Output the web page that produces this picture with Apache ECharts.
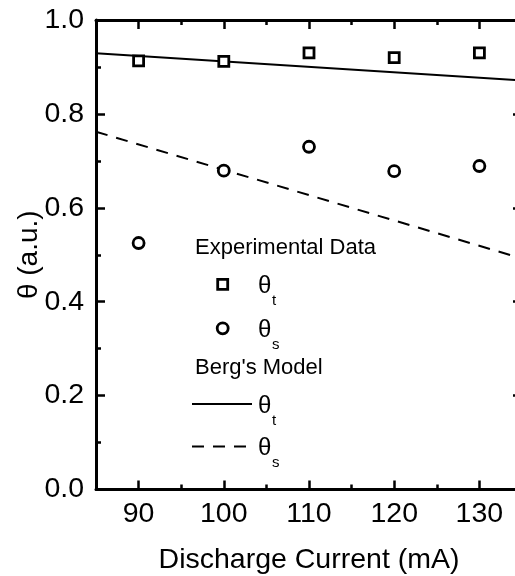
<!DOCTYPE html>
<html><head><meta charset="utf-8">
<script src="https://cdn.jsdelivr.net/npm/echarts@6/dist/echarts.min.js"></script>
<style>html,body{margin:0;padding:0;background:#fff}#c{width:515px;height:576px}</style>
</head><body><div id="c"></div>
<script>
const currents = [90, 100, 110, 120, 130];
const thetaT = [0.913, 0.912, 0.930, 0.920, 0.930];
const thetaS = [0.525, 0.679, 0.730, 0.678, 0.689];
const modelX = [85, 135];
const modelT = [0.929, 0.871];
const modelS = [0.762, 0.492];
const xMajorTicks = [90, 100, 110, 120, 130];
const xMinorTicks = [95, 105, 115, 125];
const yTicks = [0, 0.2, 0.4, 0.6, 0.8, 1.0];

const FONT = "'Liberation Sans', Arial, sans-serif";
const chart = echarts.init(document.getElementById('c'), null, {renderer: 'canvas'});

function xAx(pos, ticks, len, labels, line) {
  return {
    type: 'value', position: pos, min: 85, max: 135,
    axisLine: {show: line, onZero: false, lineStyle: {color: '#000', width: 3}},
    axisTick: {show: true, inside: true, length: len, customValues: ticks, lineStyle: {color: '#000', width: 2.5}},
    axisLabel: {show: labels, customValues: ticks, margin: 10, color: '#000', fontSize: 28.5, fontFamily: FONT},
    splitLine: {show: false},
    name: labels ? 'Discharge Current (mA)' : '',
    nameLocation: 'middle', nameGap: 56, nameMoveOverlap: false,
    nameTextStyle: {color: '#000', fontSize: 28.5, fontFamily: FONT}
  };
}
function yAx(pos, labels) {
  return {
    type: 'value', position: pos, min: 0, max: 1, interval: 0.2,
    axisLine: {show: true, onZero: false, lineStyle: {color: '#000', width: 3}},
    axisTick: {show: true, inside: true, length: 9, lineStyle: {color: '#000', width: 2.5}},
    minorTick: {show: true, splitNumber: 2, length: 5, lineStyle: {color: '#000', width: 2.5}},
    axisLabel: {show: labels, margin: 12, color: '#000', fontSize: 28.5, fontFamily: FONT,
      formatter: v => v.toFixed(1)},
    splitLine: {show: false}, minorSplitLine: {show: false},
    name: labels ? 'θ (a.u.)' : '', nameLocation: 'middle', nameGap: 53, nameMoveOverlap: false,
    nameTextStyle: {color: '#000', fontSize: 28, fontFamily: FONT}
  };
}

const theta = (x, y, sub) => [
  {type: 'text', x: x, y: y, style: {text: 'θ', fill: '#000', font: '24px ' + FONT, textVerticalAlign: 'middle'}},
  {type: 'text', x: x + 14, y: y + 15, style: {text: sub, fill: '#000', font: '15px ' + FONT, textVerticalAlign: 'middle'}}
];

chart.setOption({
  animation: false,
  backgroundColor: '#fff',
  grid: {left: 96, top: 20, right: -7, bottom: 86.5, containLabel: false, outerBoundsMode: 'none'},
  xAxis: [xAx('bottom', xMajorTicks, 9, true, true), xAx('bottom', xMinorTicks, 5, false, false),
          xAx('top', xMajorTicks, 9, false, true), xAx('top', xMinorTicks, 5, false, false)],
  yAxis: [yAx('left', true), yAx('right', false)],
  series: [
    {type: 'line', data: modelX.map((x, i) => [x, modelT[i]]), symbol: 'none',
     lineStyle: {color: '#000', width: 2}, z: 1},
    {type: 'line', data: modelX.map((x, i) => [x, modelS[i]]), symbol: 'none',
     lineStyle: {color: '#000', width: 2, type: [12, 9]}, z: 1},
    {type: 'scatter', data: currents.map((x, i) => [x, thetaT[i]]), symbol: 'rect', symbolSize: 10,
     itemStyle: {color: '#fff', borderColor: '#000', borderWidth: 2.8, opacity: 1}, z: 3},
    {type: 'scatter', data: currents.map((x, i) => [x, thetaS[i]]), symbol: 'circle', symbolSize: 11,
     itemStyle: {color: '#fff', borderColor: '#000', borderWidth: 2.8, opacity: 1}, z: 3}
  ],
  graphic: [
    {type: 'text', x: 195, y: 248, style: {text: 'Experimental Data', fill: '#000', font: '22px ' + FONT, textVerticalAlign: 'middle'}},
    {type: 'rect', shape: {x: 217.7, y: 279.3, width: 10, height: 10}, style: {fill: '#fff', stroke: '#000', lineWidth: 2.8}},
    ...theta(258, 286, 't'),
    {type: 'circle', shape: {cx: 222.7, cy: 328.3, r: 5.5}, style: {fill: '#fff', stroke: '#000', lineWidth: 2.8}},
    ...theta(258, 330, 's'),
    {type: 'text', x: 195, y: 368, style: {text: "Berg's Model", fill: '#000', font: '22px ' + FONT, textVerticalAlign: 'middle'}},
    {type: 'line', shape: {x1: 192, y1: 404, x2: 252, y2: 404}, style: {stroke: '#000', lineWidth: 2}},
    ...theta(258, 406, 't'),
    {type: 'line', shape: {x1: 192, y1: 446.5, x2: 252, y2: 446.5}, style: {stroke: '#000', lineWidth: 2, lineDash: [12, 9]}},
    ...theta(258, 448, 's')
  ]
});
</script></body></html>
